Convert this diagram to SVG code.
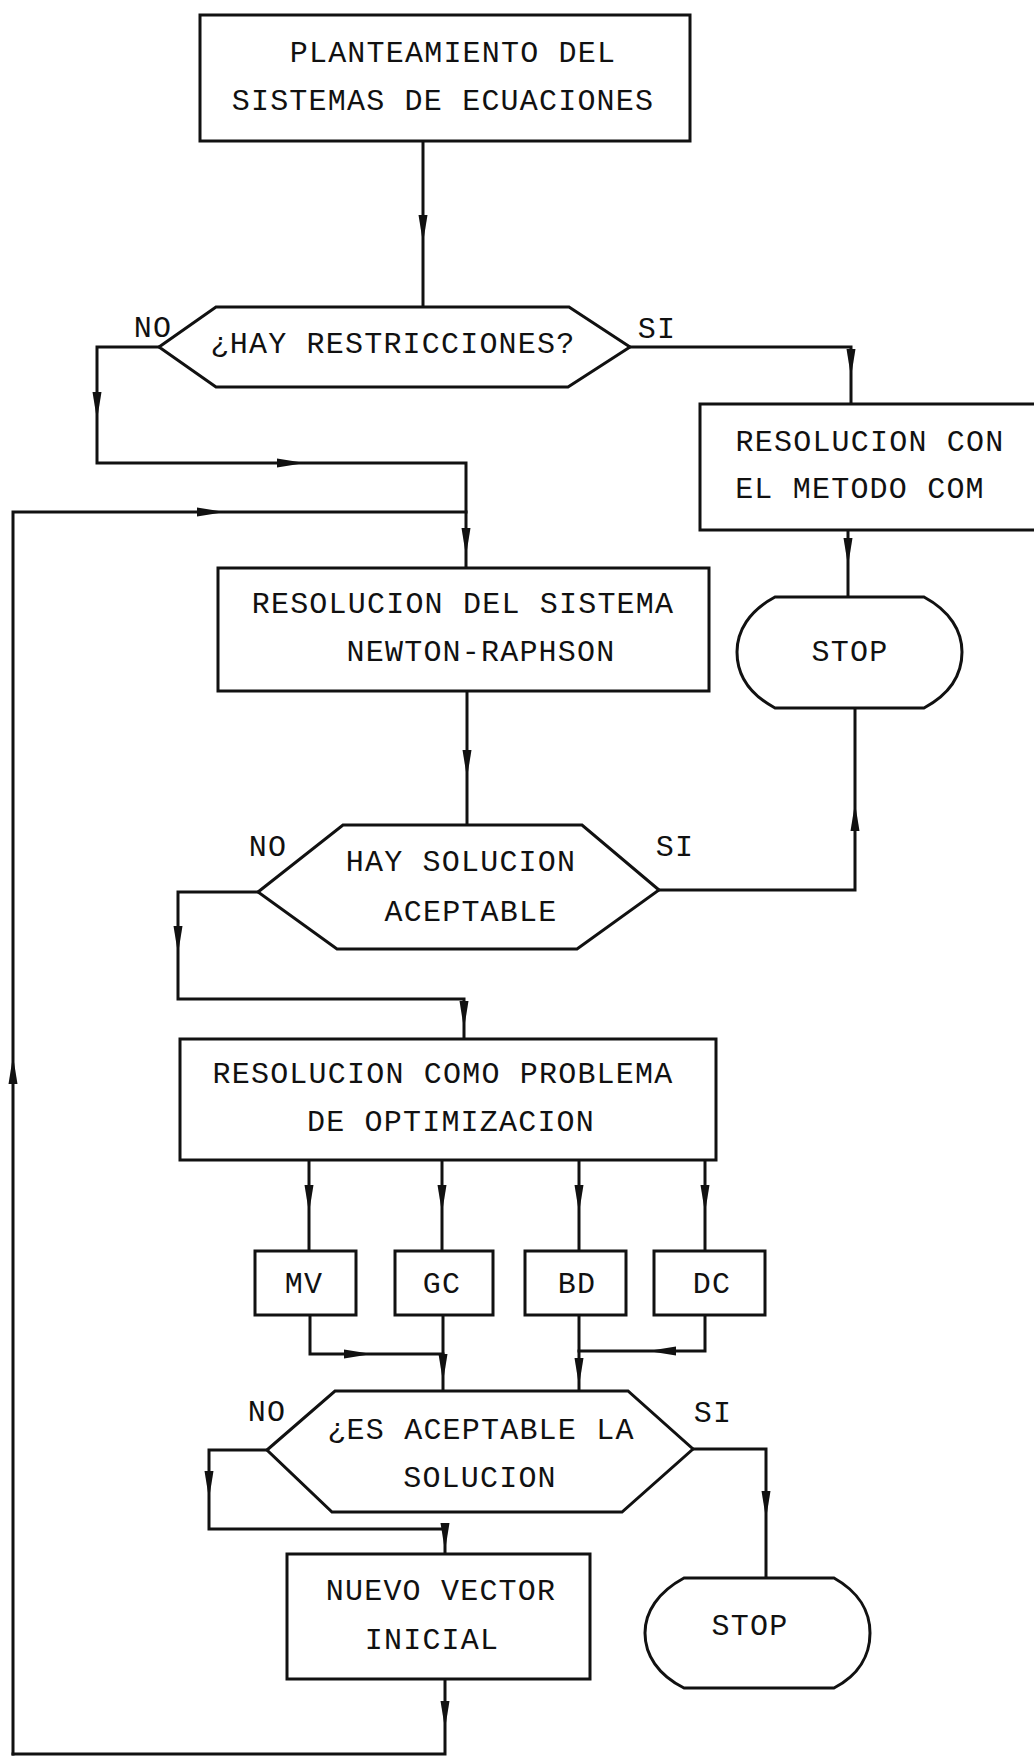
<svg xmlns="http://www.w3.org/2000/svg" width="1034" height="1756" viewBox="0 0 1034 1756">
<style>
.n{fill:#fff;stroke:#111;stroke-width:3;stroke-linejoin:miter}
.c{fill:none;stroke:#111;stroke-width:3;stroke-linejoin:miter;stroke-linecap:square}
text{font-family:"Liberation Mono","DejaVu Sans Mono",monospace;font-size:30px;fill:#111;letter-spacing:1.2px;text-anchor:middle}
</style>
<defs>
<path id="ah" d="M0,0 L-4.5,-28 L4.5,-28 Z" fill="#111"/>
</defs>
<rect x="0" y="0" width="1034" height="1756" fill="#fff"/>

<g id="connectors">
<path class="c" d="M423,140 V307"/>
<path class="c" d="M159,347 H97 V463 H466 V568"/>
<path class="c" d="M13,1754 V512 H466"/>
<path class="c" d="M630,347 H851 V404"/>
<path class="c" d="M848,530 V597"/>
<path class="c" d="M467,691 V825"/>
<path class="c" d="M659,890 H855 V708"/>
<path class="c" d="M258,892 H178 V999 H464 V1039"/>
<path class="c" d="M309,1160 V1251"/>
<path class="c" d="M442,1160 V1251"/>
<path class="c" d="M579,1160 V1251"/>
<path class="c" d="M705,1160 V1251"/>
<path class="c" d="M310,1315 V1354 H443"/>
<path class="c" d="M443,1315 V1391"/>
<path class="c" d="M579,1315 V1391"/>
<path class="c" d="M705,1315 V1351 H579"/>
<path class="c" d="M267,1450 H209 V1529 H445 V1554"/>
<path class="c" d="M693,1449 H766 V1578"/>
<path class="c" d="M445,1679 V1754 H13"/>
<use href="#ah" transform="translate(423,243)"/>
<use href="#ah" transform="translate(97,420)"/>
<use href="#ah" transform="translate(305,463) rotate(-90)"/>
<use href="#ah" transform="translate(225,512) rotate(-90)"/>
<use href="#ah" transform="translate(466,556)"/>
<use href="#ah" transform="translate(851,377)"/>
<use href="#ah" transform="translate(848,566)"/>
<use href="#ah" transform="translate(467,778)"/>
<use href="#ah" transform="translate(855,803) rotate(180)"/>
<use href="#ah" transform="translate(178,954)"/>
<use href="#ah" transform="translate(464,1029)"/>
<use href="#ah" transform="translate(13,1056) rotate(180)"/>
<use href="#ah" transform="translate(309,1213)"/>
<use href="#ah" transform="translate(442,1213)"/>
<use href="#ah" transform="translate(579,1213)"/>
<use href="#ah" transform="translate(705,1213)"/>
<use href="#ah" transform="translate(372,1354) rotate(-90)"/>
<use href="#ah" transform="translate(443,1382)"/>
<use href="#ah" transform="translate(579,1386)"/>
<use href="#ah" transform="translate(648,1351) rotate(90)"/>
<use href="#ah" transform="translate(209,1499)"/>
<use href="#ah" transform="translate(445,1551)"/>
<use href="#ah" transform="translate(766,1519)"/>
<use href="#ah" transform="translate(445,1729)"/>
</g>

<g id="n-planteamiento">
<rect class="n" x="200" y="15" width="490" height="126"/>
<text x="453" y="62">PLANTEAMIENTO DEL</text>
<text x="443" y="110">SISTEMAS DE ECUACIONES</text>
</g>

<g id="n-restricciones">
<polygon class="n" points="159,347 216,307 569,307 630,347 568,387 216,387"/>
<text x="393" y="353">¿HAY RESTRICCIONES?</text>
<text x="153" y="337">NO</text>
<text x="657" y="338">SI</text>
</g>

<g id="n-com">
<rect class="n" x="700" y="404" width="345" height="126"/>
<text x="870" y="451">RESOLUCION CON</text>
<text x="860" y="498">EL METODO COM</text>
</g>

<g id="n-stop1">
<path class="n" d="M775,597 H924 C950,611 962,631 962,652 C962,674 950,694 924,708 H775 C749,694 737,674 737,652 C737,631 749,611 775,597 Z"/>
<text x="850" y="661">STOP</text>
</g>

<g id="n-newton">
<rect class="n" x="218" y="568" width="491" height="123"/>
<text x="463" y="613">RESOLUCION DEL SISTEMA</text>
<text x="481" y="661">NEWTON-RAPHSON</text>
</g>

<g id="n-haysolucion">
<polygon class="n" points="258,892 343,825 582,825 659,890 577,949 337,949"/>
<text x="461" y="871">HAY SOLUCION</text>
<text x="471" y="921">ACEPTABLE</text>
<text x="268" y="856">NO</text>
<text x="675" y="856">SI</text>
</g>

<g id="n-optimizacion">
<rect class="n" x="180" y="1039" width="536" height="121"/>
<text x="443" y="1083">RESOLUCION COMO PROBLEMA</text>
<text x="451" y="1131">DE OPTIMIZACION</text>
</g>

<g id="n-mv">
<rect class="n" x="255" y="1251" width="101" height="64"/>
<text x="304" y="1293">MV</text>
</g>
<g id="n-gc">
<rect class="n" x="395" y="1251" width="98" height="64"/>
<text x="442" y="1293">GC</text>
</g>
<g id="n-bd">
<rect class="n" x="525" y="1251" width="101" height="64"/>
<text x="577" y="1293">BD</text>
</g>
<g id="n-dc">
<rect class="n" x="654" y="1251" width="111" height="64"/>
<text x="712" y="1293">DC</text>
</g>

<g id="n-esaceptable">
<polygon class="n" points="267,1450 335,1391 628,1391 693,1449 622,1512 332,1512"/>
<text x="481" y="1439">¿ES ACEPTABLE LA</text>
<text x="480" y="1487">SOLUCION</text>
<text x="267" y="1421">NO</text>
<text x="713" y="1422">SI</text>
</g>

<g id="n-nuevo">
<rect class="n" x="287" y="1554" width="303" height="125"/>
<text x="441" y="1600">NUEVO VECTOR</text>
<text x="432" y="1649">INICIAL</text>
</g>

<g id="n-stop2">
<path class="n" d="M684,1578 H834 C859,1592 870,1612 870,1633 C870,1655 859,1675 834,1688 H684 C658,1675 645,1655 645,1633 C645,1612 658,1592 684,1578 Z"/>
<text x="750" y="1635">STOP</text>
</g>
</svg>
